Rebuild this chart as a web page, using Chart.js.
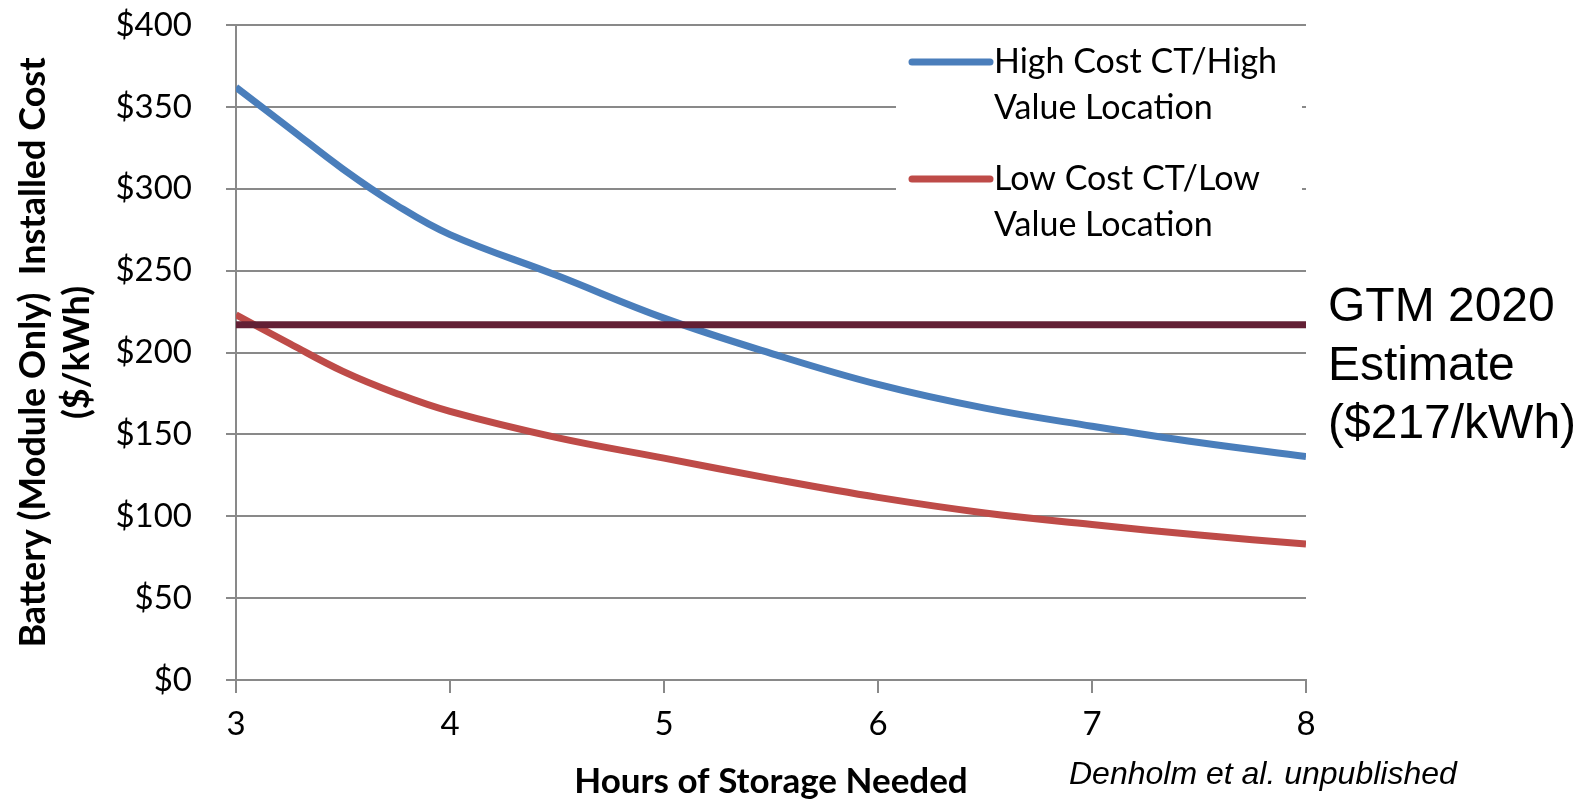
<!DOCTYPE html>
<html>
<head>
<meta charset="utf-8">
<script src="https://cdn.jsdelivr.net/npm/chart.js@4.4.0/dist/chart.umd.min.js"></script>
<style>
  html, body { margin: 0; padding: 0; background: #fff; overflow: hidden; }
  #wrap { width: 1577px; height: 803px; }
  canvas { display: block; }
</style>
</head>
<body>
<div id="wrap"><canvas id="storageChart"></canvas></div>
<script>
// hours of storage vs. break-even battery cost
const hours = [3, 3.25, 3.5, 3.75, 4, 4.5, 5, 5.5, 6, 6.5, 7, 7.5, 8];
const highCost = [362, 337, 312, 290, 272, 247, 221, 199.5, 180.5, 166, 155, 145, 136.5];
const lowCost = [223, 205.5, 188.5, 175, 164, 148, 135.5, 123, 111.5, 102, 95, 88.5, 83];
const gtmEstimate = 217;
const seriesNames = [
  ["High Cost CT/High", "Value Location"],
  ["Low Cost CT/Low", "Value Location"]
];
const gtmNote = ["GTM 2020", "Estimate", "($217/kWh)"];
const sourceNote = "Denholm et al. unpublished";

const BLUE = "#4A7EBB";
const RED = "#BE4B48";
const MAROON = "#632035";
const GRID = "#898989";

const toPoints = (ys) => hours.map((h, i) => ({ x: h, y: ys[i] }));

// legend box + side notes, drawn by hand to match the original layout
const notesPlugin = {
  id: "notes",
  afterDraw(chart) {
    const ctx = chart.ctx;
    ctx.save();
    // legend
    ctx.fillStyle = "#fff";
    ctx.fillRect(896, 34, 406, 216);
    const colors = [BLUE, RED];
    seriesNames.forEach((lines, i) => {
      const y = 62 + i * 117;
      ctx.strokeStyle = colors[i];
      ctx.lineWidth = 7;
      ctx.lineCap = "round";
      ctx.beginPath();
      ctx.moveTo(912, y);
      ctx.lineTo(990, y);
      ctx.stroke();
      ctx.fillStyle = "#000";
      ctx.font = "34px Lato";
      ctx.textBaseline = "middle";
      ctx.textAlign = "left";
      lines.forEach((t, j) => ctx.fillText(t, 994, y + j * 46));
    });
    // GTM note
    ctx.font = "48px 'Liberation Sans'";
    ctx.textBaseline = "alphabetic";
    gtmNote.forEach((t, j) => ctx.fillText(t, 1328, 321 + j * 58.5));
    // source
    ctx.font = "italic 32px 'Liberation Sans'";
    ctx.fillText(sourceNote, 1069, 784);
    ctx.restore();
  }
};

new Chart(document.getElementById("storageChart"), {
  type: "line",
  data: {
    datasets: [
      {
        label: "GTM 2020 Estimate",
        data: [{ x: 3, y: gtmEstimate }, { x: 8, y: gtmEstimate }],
        borderColor: MAROON,
        borderWidth: 7,
        pointRadius: 0,
        order: 0
      },
      {
        label: seriesNames[0].join(" "),
        data: toPoints(highCost),
        borderColor: BLUE,
        borderWidth: 7,
        pointRadius: 0,
        tension: 0.4,
        order: 1
      },
      {
        label: seriesNames[1].join(" "),
        data: toPoints(lowCost),
        borderColor: RED,
        borderWidth: 7,
        pointRadius: 0,
        tension: 0.4,
        order: 2
      }
    ]
  },
  options: {
    responsive: true,
    maintainAspectRatio: false,
    animation: false,
    layout: { padding: { top: 25, right: 271, bottom: 0, left: 0 } },
    plugins: {
      legend: { display: false },
      tooltip: { enabled: false }
    },
    scales: {
      x: {
        type: "linear",
        min: 3,
        max: 8,
        ticks: {
          stepSize: 1,
          color: "#000",
          font: { family: "Lato", size: 33 },
          padding: 12
        },
        grid: {
          drawOnChartArea: false,
          color: GRID,
          lineWidth: 2,
          tickLength: 13
        },
        border: { color: GRID, width: 2 },
        title: {
          display: true,
          text: "Hours of Storage Needed",
          color: "#000",
          font: { family: "Lato", size: 35, weight: "bold" },
          padding: { top: 0, bottom: 0 }
        },
        afterFit(scale) {
          scale.height = 123;
          scale.paddingLeft = 0;
          scale.paddingRight = 0;
        }
      },
      y: {
        min: 0,
        max: 400,
        ticks: {
          stepSize: 50,
          color: "#000",
          font: { family: "Lato", size: 33 },
          padding: 34,
          callback: (v) => "$" + v
        },
        grid: {
          color: GRID,
          lineWidth: 2,
          tickLength: 10
        },
        border: { color: GRID, width: 2 },
        title: {
          display: true,
          text: ["Battery (Module Only)  Installed Cost", "($/kWh)"],
          color: "#000",
          font: { family: "Lato", size: 36, weight: "bold", lineHeight: "44px" },
          padding: { top: 11, bottom: 0 }
        },
        afterFit(scale) {
          scale.width = 236;
          scale.paddingTop = 0;
          scale.paddingBottom = 0;
        }
      }
    }
  },
  plugins: [notesPlugin]
});
</script>
</body>
</html>
